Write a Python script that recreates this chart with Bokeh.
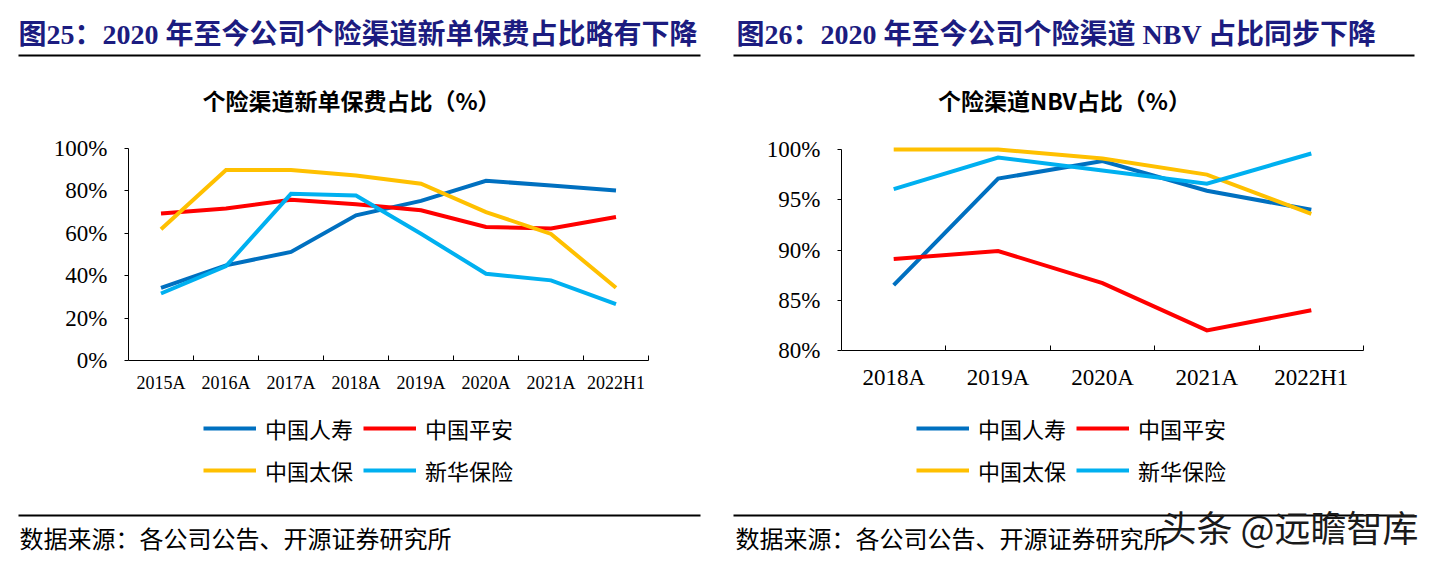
# 个险渠道占比：新单保费占比（图25）与 NBV 占比（图26）

from bokeh.embed import file_html
from bokeh.layouts import row
from bokeh.models import (BoxAnnotation, CustomJSTickFormatter, FixedTicker, Label, Legend,
                          LegendItem, LinearAxis, PrintfTickFormatter, Range1d)
from bokeh.plotting import figure
from bokeh.resources import INLINE

# %%
# 图25 新单保费占比（%）
years_new = ["2015A", "2016A", "2017A", "2018A", "2019A", "2020A", "2021A", "2022H1"]
life_new = [34.3, 44.9, 51.2, 68.5, 75.3, 84.8, 82.5, 80.2]
pingan_new = [69.3, 71.7, 75.8, 73.7, 70.9, 63.0, 62.3, 67.7]
cpic_new = [61.9, 89.8, 89.8, 87.3, 83.4, 70.0, 59.7, 34.3]
nci_new = [31.6, 44.5, 78.6, 77.8, 59.8, 40.9, 37.8, 26.6]

# 图26 NBV占比（%）
years_nbv = ["2018A", "2019A", "2020A", "2021A", "2022H1"]
life_nbv = [86.5, 97.1, 98.85, 95.9, 94.0]
pingan_nbv = [89.1, 89.9, 86.7, 82.0, 84.0]
cpic_nbv = [100.0, 100.0, 99.1, 97.5, 93.6]
nci_nbv = [96.05, 99.2, 97.9, 96.6, 99.6]

names = ["中国人寿", "中国平安", "中国太保", "新华保险"]
colors = ["#0070c0", "#ff0000", "#ffc000", "#00b0f0"]

W, H = 720, 561
SERIF = "Liberation Serif"
CJK = "Noto Sans CJK SC"
TITLE_FONT = "Liberation Serif, Noto Sans CJK SC"
NAVY = "#1c1c80"


# %%
def stretch(lo_px, hi_px, lo_val, hi_val, total):
    # 描画域 lo_px..hi_px に lo_val..hi_val を合わせ、図全体 0..total まで延ばした範囲
    k = (hi_val - lo_val) / (hi_px - lo_px)
    return Range1d(lo_val - lo_px * k, lo_val + (total - lo_px) * k)


def txt(p, x, y, text, size, font=CJK, color="black", style="normal", align="left"):
    p.add_layout(Label(x=x, y=y, text=text, text_font=font, text_font_size=size,
                       text_color=color, text_font_style=style, text_align=align,
                       text_baseline="middle"))


def rule(p, x0, x1, y):
    p.add_layout(BoxAnnotation(left=x0, right=x1, top=y - 1, bottom=y + 1, fill_color="black",
                               fill_alpha=1, line_color=None))


def panel(cats, series, y0, y1, yticks, fl, fr, ft, fb, xsize, xstand, leg_x, leg_y):
    # 図全体をピクセル座標に、グラフ本体は cx/cy の範囲で描く
    p = figure(width=W, height=H, x_range=Range1d(0, W), y_range=Range1d(H, 0),
               x_axis_type=None, y_axis_type=None, output_backend="svg",
               toolbar_location=None, title=None, min_border=0)
    p.outline_line_color = None
    n = len(cats)
    p.extra_x_ranges = {"cx": stretch(fl, fr, 0, n, W)}
    p.extra_y_ranges = {"cy": stretch(H - fb, H - ft, y0, y1, H)}

    xs = [i + 0.5 for i in range(n)]
    items = []
    for name, color, vals in zip(names, colors, series):
        r = p.line(xs, vals, x_range_name="cx", y_range_name="cy", line_color=color,
                   line_width=4, line_join="miter")
        items.append(LegendItem(label=name, renderers=[r]))

    yax = LinearAxis(x_range_name="cx", y_range_name="cy", fixed_location=0, bounds=(y0, y1),
                     ticker=FixedTicker(ticks=yticks), formatter=PrintfTickFormatter(format="%d%%"))
    yax.major_tick_out = 4
    yax.major_tick_in = 0
    yax.minor_tick_out = 0
    yax.minor_tick_in = 0
    yax.major_label_standoff = 17
    yax.major_label_text_font = SERIF
    yax.major_label_text_font_size = "23px"
    yax.major_label_text_color = "black"
    yax.axis_line_color = "black"
    p.add_layout(yax, "left")

    xax = LinearAxis(x_range_name="cx", y_range_name="cy", fixed_location=y0, bounds=(0, n),
                     ticker=FixedTicker(ticks=xs, minor_ticks=list(range(1, n + 1))),
                     formatter=CustomJSTickFormatter(args=dict(labels=cats),
                                                     code="return labels[Math.floor(tick)] || ''"))
    xax.major_tick_out = 0
    xax.major_tick_in = 0
    xax.minor_tick_out = 0
    xax.minor_tick_in = 5
    xax.major_label_standoff = xstand
    xax.major_label_text_font = SERIF
    xax.major_label_text_font_size = xsize
    xax.major_label_text_color = "black"
    xax.axis_line_color = "black"
    p.add_layout(xax, "below")

    legend = Legend(items=items, orientation="horizontal", ncols=2, location=(leg_x, leg_y),
                    padding=0, margin=0, spacing=10, glyph_width=53, glyph_height=30,
                    label_height=30, label_standoff=9, border_line_color=None,
                    background_fill_alpha=0, label_text_font=CJK,
                    label_text_font_size="22px", label_text_color="black")
    p.add_layout(legend)
    return p


# %%
# 图25
p1 = panel(years_new, [life_new, pingan_new, cpic_new, nci_new], 0, 100,
           [0, 20, 40, 60, 80, 100], 128, 648, 148, 360, "18px", 12, 203, 75)
txt(p1, 18, 34, "图25：2020 年至今公司个险渠道新单保费占比略有下降", "28px", TITLE_FONT, NAVY, "bold")
rule(p1, 18, 700, 55)
txt(p1, 351, 99, "个险渠道新单保费占比（%）", "23px", CJK, "black", "bold", "center")
rule(p1, 18, 700, 515)
txt(p1, 19, 537, "数据来源：各公司公告、开源证券研究所", "24px")

# 图26
p2 = panel(years_nbv, [life_nbv, pingan_nbv, cpic_nbv, nci_nbv], 80, 100,
           [80, 85, 90, 95, 100], 121, 643, 149, 350, "23px", 14, 196, 75)
txt(p2, 16, 34, "图26：2020 年至今公司个险渠道 NBV 占比同步下降", "28px", TITLE_FONT, NAVY, "bold")
rule(p2, 13, 694, 55)
txt(p2, 344, 99, "个险渠道NBV占比（%）", "23px", CJK, "black", "bold", "center")
rule(p2, 13, 694, 515)
txt(p2, 15, 537, "数据来源：各公司公告、开源证券研究所", "24px")
txt(p2, 440, 525, "头条 @远瞻智库", "36px", CJK, "#1a1a1a")

layout = row(p1, p2)
open("out.html", "w").write(file_html(layout, INLINE))
